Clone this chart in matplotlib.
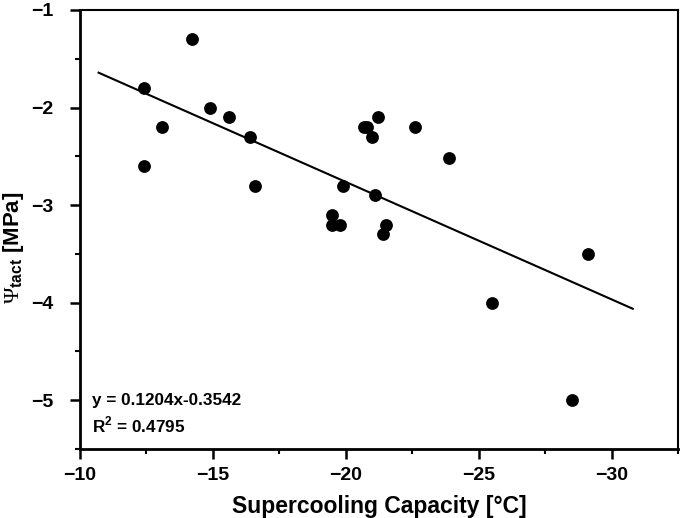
import matplotlib
matplotlib.use("Agg")
import matplotlib.pyplot as plt
from matplotlib.ticker import MultipleLocator
import numpy as np

plt.rcParams['font.family'] = ['Liberation Sans', 'DejaVu Sans']
plt.rcParams['mathtext.fontset'] = 'custom'
plt.rcParams['mathtext.rm'] = 'Liberation Serif'
plt.rcParams['mathtext.bf'] = 'Liberation Sans:bold'

# Data
supercooling = [-12.4, -14.2, -14.9, -15.6, -13.1, -16.4, -12.4, -16.6,
                -19.5, -19.5, -19.8, -19.9, -21.2, -20.7, -20.8, -21.0,
                -22.6, -23.9, -21.1, -21.5, -21.4, -29.1, -25.5, -28.5]
psi_tact = [-1.8, -1.3, -2.0, -2.1, -2.2, -2.3, -2.6, -2.8,
            -3.1, -3.2, -3.2, -2.8, -2.1, -2.2, -2.2, -2.3,
            -2.2, -2.52, -2.9, -3.2, -3.3, -3.5, -4.0, -5.0]

slope = 0.1204
intercept = -0.3542
fit_x_range = [-10.7, -30.8]
x_ticks = [-10, -15, -20, -25, -30]
y_ticks = [-5, -4, -3, -2, -1]

fig = plt.figure(figsize=(6.8, 5.18), dpi=100)
ax = fig.add_axes([80/680, 69/518, 598/680, 439/518])

fx = np.array(fit_x_range)
ax.plot(fx, slope * fx + intercept, color='black', lw=1.5, zorder=2)
ax.scatter(supercooling, psi_tact, s=85, color='black', zorder=3, linewidths=0)

ax.set_xlim(-10, -32.5)
ax.set_ylim(-5.5, -1)
ax.set_xticks(x_ticks)
ax.set_yticks(y_ticks)
ax.xaxis.set_minor_locator(MultipleLocator(2.5))
ax.yaxis.set_minor_locator(MultipleLocator(0.5))
ax.set_xticklabels([f"\u2212{abs(v)}" for v in x_ticks])
ax.set_yticklabels([f"\u2212{abs(v)}" for v in y_ticks])

for s in ['left', 'bottom']:
    ax.spines[s].set_linewidth(2.0)
for s in ['top', 'right']:
    ax.spines[s].set_linewidth(1.5)

ax.tick_params(which='major', direction='out', length=7, width=1.8,
               labelsize=14, top=False, right=False)
ax.tick_params(axis='x', which='major', pad=6)
ax.tick_params(axis='y', which='major', pad=12)
ax.tick_params(which='minor', direction='out', length=3.5, width=1.5,
               top=False, right=False)
for lbl in ax.get_xticklabels() + ax.get_yticklabels():
    lbl.set_fontweight('bold')

ax.set_xlabel("Supercooling Capacity [\u00b0C]", fontsize=16.5, fontweight='bold', labelpad=8)
ax.set_ylabel(r"$\mathrm{\Psi}_{\mathbf{tact}}$ [MPa]", fontsize=16, fontweight='bold')
ax.yaxis.set_label_coords(-0.09, 0.458)

ax.text(-10.45, -5.0, "y = 0.1204x-0.3542", fontsize=12.3, fontweight='bold', va='center', ha='left')
ax.text(-10.45, -5.25, r"R$^{\mathbf{2}}$ = 0.4795", fontsize=12.3, fontweight='bold', va='center', ha='left')

fig.savefig("out.png", dpi=100)
